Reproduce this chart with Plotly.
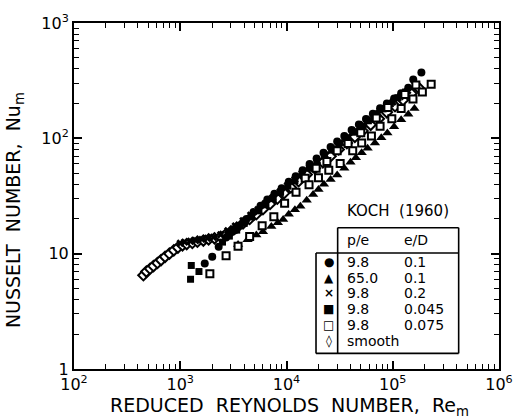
import plotly.graph_objects as go

# ---------------- data ----------------
circ_re = [1700, 2000, 2300, 2700, 3100, 3600, 4200, 4900, 5700, 6600, 7700, 9000, 10500, 12200,
           14200, 16500, 19200, 22300, 26000, 30000, 35000, 41000, 48000, 56000, 65000, 76000,
           88000, 103000, 120000, 140000, 156000, 186000]
circ_nu = [8.2, 9.4, 11.5, 13.8, 15.5, 17.5, 20, 23, 26, 29.5, 33, 37, 42, 47,
           53, 60, 67, 75, 84, 94, 105, 118, 132, 147, 163, 182,
           200, 222, 246, 275, 324, 372]

tri_re = [3500, 4300, 5200, 6000, 7200, 8300, 9300, 10500, 12000, 13500, 15500, 17800, 20000,
          22500, 26000, 30000, 35000, 40000, 45000, 51000, 58000, 68000, 78000, 89000, 103000,
          120000, 140000, 160000]
tri_nu = [12.0, 13.2, 14.5, 15.5, 17.2, 18.5, 19.8, 22, 24, 25.8, 29, 32.6, 36,
          40, 44, 48, 55, 62, 68, 75, 82, 91, 101, 111, 126,
          145, 162, 181]

cross_re = [1000, 1100, 1250, 1400, 1600, 1800, 2050, 2400, 2800, 3300, 3900, 4600, 5400, 6300,
            7400, 8700, 10200, 12000, 14000, 16500, 19500, 23000, 27000, 32000, 38000, 45000,
            53000, 62000, 73000, 86000, 100000, 118000, 138000, 162000]
cross_nu = [12.3, 12.6, 12.8, 13.0, 13.3, 13.6, 13.9, 14.6, 15.8, 17.4, 19.3, 21.6, 24.2, 27.2,
            30.6, 34.5, 39, 44, 49.5, 56, 63.5, 72, 81, 92, 104, 117,
            131, 146, 164, 185, 206, 230, 258, 290]

sq_re = [1250, 1270, 1500, 2500, 2900, 3400, 4000, 4700, 5500, 6400, 7500, 8800, 10300, 12000,
         14000, 16400, 19300, 22700, 26600, 31000, 36500, 43000, 50000, 59000, 69000, 81000,
         95000, 112000, 132000]
sq_nu = [6.0, 7.9, 7.0, 12.6, 14.2, 16.0, 18.3, 20.8, 23.5, 26.5, 30, 34, 38.5, 43,
         48.5, 55, 62, 70, 79, 89, 100, 113, 127, 142, 160, 180,
         200, 225, 252]

osq_re = [1900, 2700, 3500, 4500, 5900, 7600, 9600, 12300, 15000, 16300, 19000, 20000, 24000,
          25000, 30000, 32000, 38000, 42000, 50000, 51000, 63000, 70000, 76000, 90000, 98000,
          120000, 130000, 155000, 165000, 190000, 230000]
osq_nu = [6.7, 9.6, 11.6, 14.1, 17.5, 20.9, 27.4, 34, 45, 39.6, 55, 45.5, 63,
          53, 78, 60.6, 90, 78, 112, 91, 105, 150, 127, 185, 148,
          181, 240, 219, 290, 252, 295]

smooth_re = [450, 480, 520, 560, 610, 660, 720, 790, 870, 950, 1050, 1150, 1300, 1450, 1650,
             1850, 2100, 2400, 2700, 3000, 3400, 3900, 4500, 5200, 6000, 7000, 8200, 9500,
             11000, 13000, 15500, 18500, 22000, 26000, 31000, 37000, 44000, 52000, 62000,
             74000, 88000, 105000, 125000, 150000, 175000]
smooth_nu = [6.5, 7.0, 7.4, 7.8, 8.3, 8.8, 9.4, 10.0, 10.7, 11.3, 11.8, 12.1, 12.4, 12.7, 13.0,
             13.3, 13.6, 14.0, 14.8, 15.6, 16.8, 18.3, 20, 22, 24.3, 27, 30, 33.5,
             37.5, 42.5, 48.5, 55, 62, 70, 80, 91, 103, 116, 131,
             148, 168, 190, 215, 245, 275]

x_ticks = [100, 1000, 10000, 100000, 1000000]
x_ticktext = ["10<sup>2</sup>", "10<sup>3</sup>", "10<sup>4</sup>", "10<sup>5</sup>", "10<sup>6</sup>"]
y_ticks = [1, 10, 100, 1000]
y_ticktext = ["1", "10", "10<sup>2</sup>", "10<sup>3</sup>"]

legend_symbols = ["●", "▲", "×", "■", "□", "◊"]
legend_pe = ["9.8", "65.0", "9.8", "9.8", "9.8", "smooth"]
legend_ed = ["0.1", "0.1", "0.2", "0.045", "0.075", ""]

# ---------------- figure ----------------
W, H = 525, 419
L, R, T, B = 74, 506, 14, 369
FONT = "DejaVu Sans"

def px(xp):
    return (xp - L) / (R - L)

def py(yp):
    return (B - yp) / (B - T)

fig = go.Figure()

def add(xs, ys, symbol, size, lw=0, name="", fill="black"):
    fig.add_trace(go.Scatter(
        x=xs, y=ys, mode="markers", name=name, showlegend=False,
        marker=dict(symbol=symbol, size=size, color=fill,
                    line=dict(color="black", width=lw)),
    ))

add(smooth_re, smooth_nu, "diamond", 8, 2, "smooth", "white")
add(sq_re, sq_nu, "square", 7, 0, "9.8/0.045")
add(cross_re, cross_nu, "x", 7, 0, "9.8/0.2")
add(circ_re, circ_nu, "circle", 8, 0, "9.8/0.1")
add(tri_re, tri_nu, "triangle-up", 9, 0, "65/0.1")
add(osq_re, osq_nu, "square", 7, 2, "9.8/0.075", "white")

axis_common = dict(
    type="log", showline=True, linecolor="black", linewidth=2, mirror="allticks",
    ticks="inside", ticklen=8, tickwidth=1.5, tickcolor="black",
    showgrid=False, zeroline=False,
    tickfont=dict(family=FONT, size=16, color="black"),
    minor=dict(ticks="inside", ticklen=5, tickwidth=1.2, tickcolor="black", dtick="D1", showgrid=False),
)

fig.update_xaxes(range=[2, 6], tickvals=x_ticks, ticktext=x_ticktext, **axis_common)
fig.update_yaxes(range=[0, 3], tickvals=y_ticks, ticktext=y_ticktext, **axis_common)

LF = 14
ann = []
ann.append(dict(x=px(293), y=py(407), xref="paper", yref="paper",
                text="REDUCED\u00a0 REYNOLDS\u00a0 NUMBER,\u00a0 Re<sub>m</sub>",
                showarrow=False, font=dict(family=FONT, size=19, color="black"),
                xanchor="center", yanchor="middle"))
ann.append(dict(x=px(13), y=py(206), xref="paper", yref="paper",
                text="NUSSELT\u00a0 NUMBER,\u00a0 Nu<sub>m</sub>", textangle=-90,
                showarrow=False, font=dict(family=FONT, size=19, color="black"),
                xanchor="center", yanchor="middle"))
ann.append(dict(x=px(403), y=py(207), xref="paper", yref="paper",
                text="KOCH\u00a0 (1960)", showarrow=False,
                font=dict(family=FONT, size=15, color="black"),
                xanchor="center", yanchor="middle"))
ann.append(dict(x=px(349), y=py(237), xref="paper", yref="paper", text="p/e",
                showarrow=False, font=dict(family=FONT, size=LF, color="black"),
                xanchor="left", yanchor="middle"))
ann.append(dict(x=px(407), y=py(237), xref="paper", yref="paper", text="e/D",
                showarrow=False, font=dict(family=FONT, size=LF, color="black"),
                xanchor="left", yanchor="middle"))
row_y = [259, 275.5, 291.5, 307.5, 323.5, 340]
for i, (sym, pe, ed) in enumerate(zip(legend_symbols, legend_pe, legend_ed)):
    ann.append(dict(x=px(333), y=py(row_y[i]), xref="paper", yref="paper", text="<b>" + sym + "</b>",
                    showarrow=False, font=dict(family=FONT, size=12, color="black"),
                    xanchor="center", yanchor="middle"))
    ann.append(dict(x=px(349), y=py(row_y[i]), xref="paper", yref="paper", text=pe,
                    showarrow=False, font=dict(family=FONT, size=LF, color="black"),
                    xanchor="left", yanchor="middle"))
    if ed:
        ann.append(dict(x=px(407), y=py(row_y[i]), xref="paper", yref="paper", text=ed,
                        showarrow=False, font=dict(family=FONT, size=LF, color="black"),
                        xanchor="left", yanchor="middle"))

shapes = []
def seg(x0, y0, x1, y1):
    shapes.append(dict(type="line", xref="paper", yref="paper",
                       x0=px(x0), y0=py(y0), x1=px(x1), y1=py(y1),
                       line=dict(color="black", width=1.6)))

seg(342, 224, 465, 224)
seg(342, 224, 342, 353)
seg(465, 224, 465, 353)
seg(320, 250, 465, 250)
seg(320, 250, 320, 353)
seg(320, 353, 465, 353)

fig.update_layout(
    width=W, height=H,
    margin=dict(l=L, r=W - R, t=T, b=H - B),
    paper_bgcolor="white", plot_bgcolor="white",
    annotations=ann, shapes=shapes, showlegend=False,
    font=dict(family=FONT, color="black"),
)

fig.write_html("out.html")
